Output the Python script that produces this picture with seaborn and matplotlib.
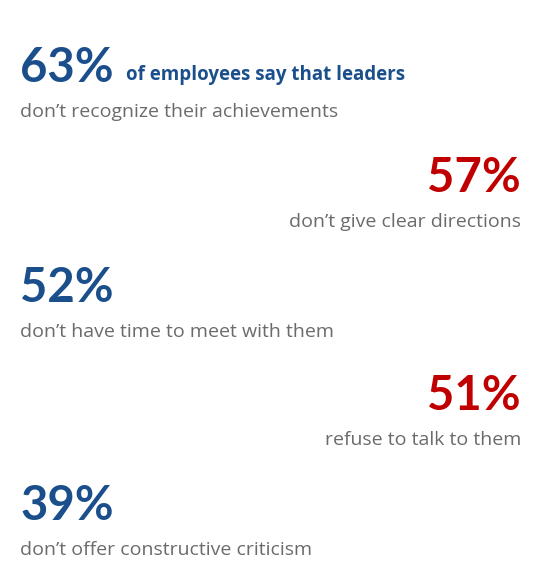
import matplotlib
matplotlib.use("Agg")
import matplotlib.pyplot as plt
import seaborn as sns

sns.set_theme(style="white")
plt.rcParams['font.family'] = ['Open Sans', 'DejaVu Sans']

percents = [63, 57, 52, 51, 39]
labels = ["don\u2019t recognize their achievements",
          "don\u2019t give clear directions",
          "don\u2019t have time to meet with them",
          "refuse to talk to them",
          "don\u2019t offer constructive criticism"]
sides = ["left", "right", "left", "right", "left"]
headline = "of employees say that leaders"

BLUE = "#1b4f8c"
RED = "#c00000"
GRAY = "#6b6b6b"

fig = plt.figure(figsize=(5.38, 5.88), dpi=100)
ax = fig.add_axes([0, 0, 1, 1])
ax.set_xlim(0, 538)
ax.set_ylim(588, 0)
ax.axis("off")

num_y = [82, 192, 302, 410, 520]
for i, (p, lab, side) in enumerate(zip(percents, labels, sides)):
    color = BLUE if side == "left" else RED
    x = 20 if side == "left" else 521
    ax.text(x, num_y[i], f"{p}%", ha=side, va="baseline",
            fontsize=34, fontweight="bold", color=color, family=['Lato', 'DejaVu Sans'])
    ax.text(x, num_y[i] + 35, lab, ha=side, va="baseline",
            fontsize=14, color=GRAY)
    if i == 0:
        ax.text(126, num_y[i] - 2, headline, ha="left", va="baseline",
                fontsize=13.5, fontweight="bold", color=BLUE)

fig.savefig("out.png", dpi=100)
